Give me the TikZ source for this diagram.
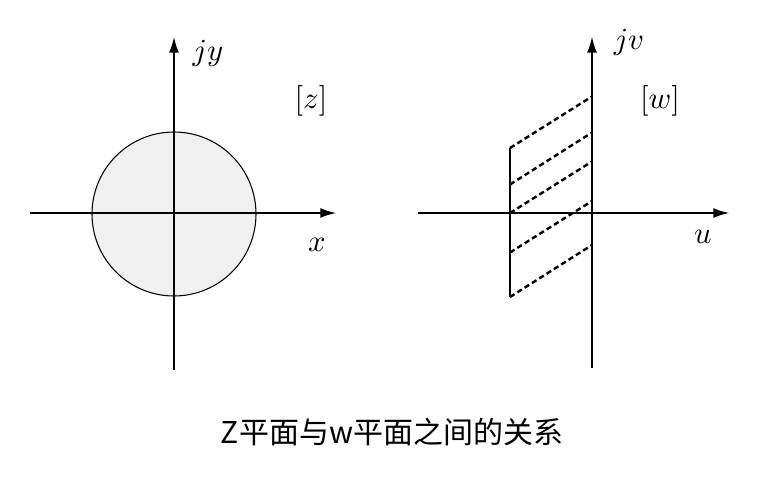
\documentclass[tikz,border=0pt]{standalone}
\usepackage{fontspec}
\newfontfamily\cjk{Noto Sans CJK SC}
\usetikzlibrary{arrows.meta}
\newcommand{\biglbl}[1]{\scalebox{2.3}{$#1$}}
\begin{document}
\begin{tikzpicture}[x=0.75pt,y=-0.75pt,
  axis/.style={line width=2pt,-{Latex[length=12.5pt,width=7.5pt]}},
  solidline/.style={line width=2pt},
  hatch/.style={line width=1.8pt,dash pattern=on 4pt off 2.5pt},
  lbl/.style={inner sep=0pt}]
\useasboundingbox (0,0) rectangle (780,477);
% left plane
\coordinate (zc) at (174,214);
\fill[black!6] (zc) circle (82);
\draw[line width=0.8pt] (zc) circle (82);
\coordinate (xl) at (30,213);
\coordinate (xr) at (337,213);
\coordinate (yb) at (174,370);
\coordinate (yt) at (174,36);
\draw[axis] (xl) -- (xr);
\draw[axis] (yb) -- (yt);
\node[lbl] (jy) at (208,53) {\biglbl{jy}};
\node[lbl] (zl) at (311,101) {\biglbl{[z]}};
\node[lbl] (xlab) at (317,245) {\biglbl{x}};
% right plane
\coordinate (ul) at (418,213);
\coordinate (ur) at (730,213);
\coordinate (vb) at (592,368);
\coordinate (vt) at (592,36);
\coordinate (s1) at (510,148);
\coordinate (s2) at (510,297);
\draw[solidline] (s1) -- (s2);
\foreach \a/\b [count=\i] in {148/96.5,184.5/132.5,213/161.5,252.5/201,297/245} {
  \coordinate (hl\i) at (510,\a);
  \coordinate (hr\i) at (592,\b);
  \draw[hatch] (hl\i) -- (hr\i);
}
\draw[axis] (ul) -- (ur);
\draw[axis] (vb) -- (vt);
\node[lbl] (jv) at (629,42) {\biglbl{jv}};
\node[lbl] (wl) at (660,101) {\biglbl{[w]}};
\node[lbl] (ulab) at (703,237) {\biglbl{u}};
% caption
\node[inner sep=0pt,font=\cjk\fontsize{22.5}{26}\selectfont] (cap) at (392,432) {Z平面与w平面之间的关系};
\end{tikzpicture}
\end{document}
